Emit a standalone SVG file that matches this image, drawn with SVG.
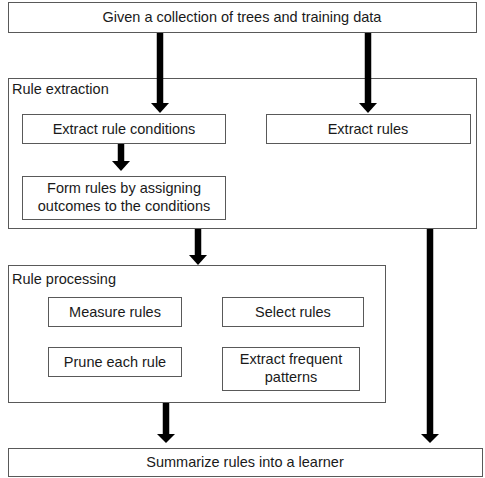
<svg xmlns="http://www.w3.org/2000/svg" width="485" height="478" viewBox="0 0 485 478">
<defs>
<style>
.box{fill:#fff;stroke:#595959;stroke-width:1}
.t{font-family:"Liberation Sans",Arial,sans-serif;font-size:14.5px;fill:#1a1a1a;text-anchor:middle}
.l{font-family:"Liberation Sans",Arial,sans-serif;font-size:14.5px;fill:#1a1a1a}
.sh{stroke:#000;stroke-width:6.5;fill:none}
.hd{fill:#000}
</style>
</defs>
<rect width="485" height="478" fill="#fff"/>
<g id="top"><rect class="box" x="8.5" y="2.5" width="468" height="30"/><text class="t" x="242" y="22">Given a collection of trees and training data</text></g>
<g id="rule-extraction"><rect class="box" x="8.5" y="78.5" width="468" height="150"/><text class="l" x="12" y="94">Rule extraction</text></g>
<g id="extract-conditions"><rect class="box" x="22.5" y="114.5" width="203" height="29"/><text class="t" x="124" y="134">Extract rule conditions</text></g>
<g id="extract-rules"><rect class="box" x="266.5" y="114.5" width="204" height="29"/><text class="t" x="368" y="134">Extract rules</text></g>
<g id="form-rules"><rect class="box" x="22.5" y="176.5" width="203" height="43"/><text class="t" x="124" y="193">Form rules by assigning</text><text class="t" x="124" y="211">outcomes to the conditions</text></g>
<g id="rule-processing"><rect class="box" x="8.5" y="265.5" width="377" height="137"/><text class="l" x="12" y="284">Rule processing</text></g>
<g id="measure"><rect class="box" x="48.5" y="297.5" width="133" height="29"/><text class="t" x="115" y="317">Measure rules</text></g>
<g id="select"><rect class="box" x="222.5" y="297.5" width="141" height="29"/><text class="t" x="293" y="317">Select rules</text></g>
<g id="prune"><rect class="box" x="48.5" y="347.5" width="133" height="29"/><text class="t" x="115" y="367">Prune each rule</text></g>
<g id="frequent"><rect class="box" x="222.5" y="347.5" width="137" height="43"/><text class="t" x="291" y="364">Extract frequent</text><text class="t" x="291" y="382">patterns</text></g>
<g id="summarize"><rect class="box" x="8.5" y="448.5" width="474" height="28"/><text class="t" x="245" y="467">Summarize rules into a learner</text></g>
<g id="connectors">
<line class="sh" x1="160" y1="33" x2="160" y2="104"/><polygon class="hd" points="151,103 169,103 160,113"/>
<line class="sh" x1="368" y1="33" x2="368" y2="104"/><polygon class="hd" points="359,103 377,103 368,113"/>
<line class="sh" x1="121" y1="144" x2="121" y2="162"/><polygon class="hd" points="112,161 130,161 121,171"/>
<line class="sh" x1="198" y1="229" x2="198" y2="257"/><polygon class="hd" points="189,255 207,255 198,265"/>
<line class="sh" x1="430" y1="229" x2="430" y2="435"/><polygon class="hd" points="421,434 439,434 430,443"/>
<line class="sh" x1="166" y1="403" x2="166" y2="435"/><polygon class="hd" points="157,434 175,434 166,443"/>
</g>
</svg>
